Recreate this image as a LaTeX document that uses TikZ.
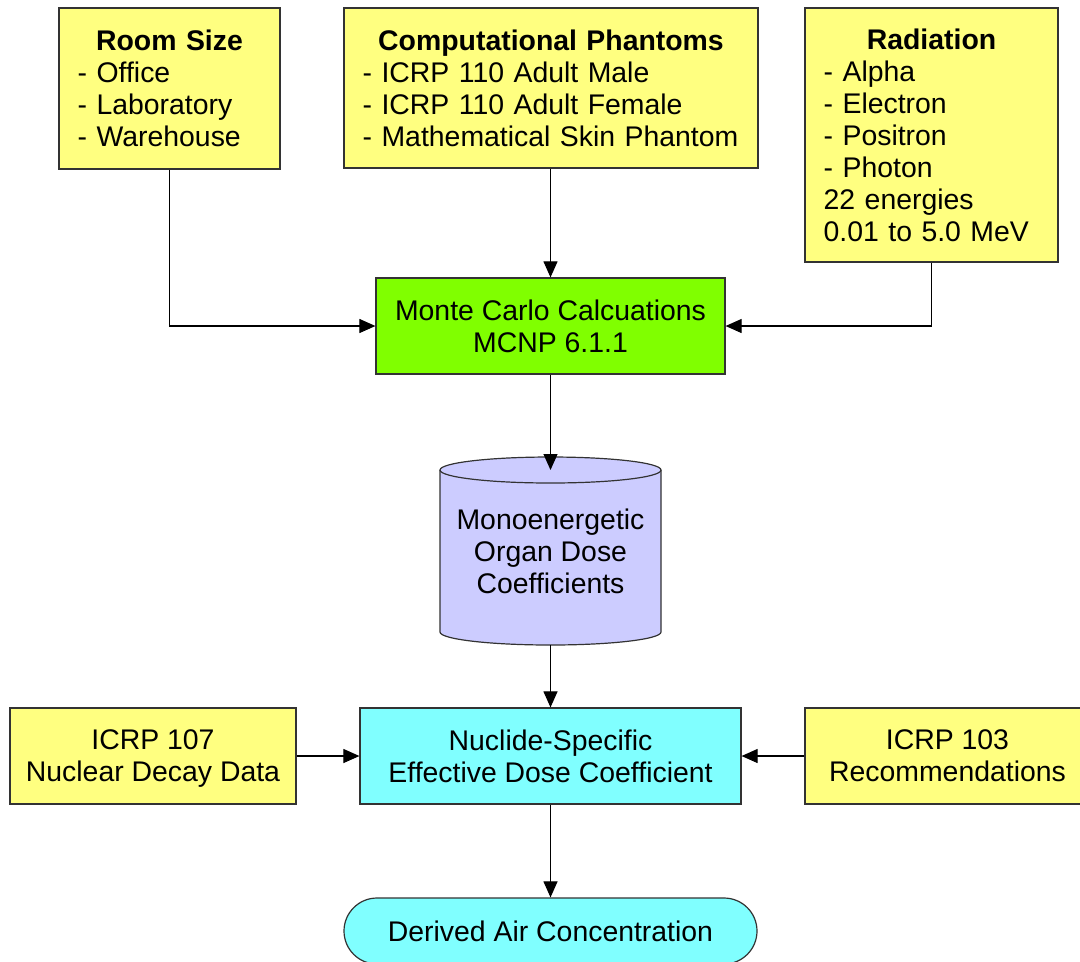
\documentclass[tikz,border=0pt]{standalone}
\usepackage{fontspec}
\setmainfont{Liberation Sans}
\usetikzlibrary{arrows.meta,shapes.misc,backgrounds}
\definecolor{ybox}{RGB}{255,255,128}
\definecolor{gbox}{RGB}{128,255,0}
\definecolor{lbox}{RGB}{204,204,255}
\definecolor{cbox}{RGB}{128,255,255}
\begin{document}
\begin{tikzpicture}[x=0.75pt,y=-0.75pt,
  box/.style={draw=black!80, line width=0.9pt, rectangle, inner sep=0pt, font=\fontsize{21.3pt}{24pt}\selectfont},
  listbox/.style={box, fill=ybox, align=left, inner xsep=14pt, inner ysep=0pt},
  centbox/.style={box, align=center},
  arr/.style={draw=black, line width=0.8pt, -{Triangle[length=12pt,width=10.5pt]}},
  cylline/.style={draw=black!80, line width=0.9pt}
]
\useasboundingbox (0,0) rectangle (1080,961);
\clip (0,0) rectangle (1080,961);
\begin{scope}[on background layer]
\fill[white] (0,0) rectangle (1080,961);
\end{scope}

\node[listbox, text width=137.75pt, minimum height=120.75pt] (room) at (169.5,88.5)
  {\makebox[\linewidth]{\bfseries Room Size}\\- Office\\- Laboratory\\- Warehouse};
\node[listbox, text width=282.5pt, minimum height=120pt] (comp) at (551,88)
  {\makebox[\linewidth]{\bfseries Computational Phantoms}\\- ICRP 110 Adult Male\\- ICRP 110 Adult Female\\- Mathematical Skin Phantom};
\node[listbox, text width=161.75pt, minimum height=190.5pt] (rad) at (931.5,135)
  {\makebox[\linewidth]{\bfseries Radiation}\\- Alpha\\- Electron\\- Positron\\- Photon\\22 energies\\0.01 to 5.0 MeV};

\node[centbox, fill=gbox, minimum width=261.75pt, minimum height=72pt] (mc) at (550.5,326)
  {Monte Carlo Calcuations\\MCNP 6.1.1};

\node[font=\fontsize{21.3pt}{24pt}\selectfont, align=center, rectangle, inner sep=0pt, outer sep=0pt,
  minimum width=165.75pt, minimum height=121.5pt] (cyl) at (550.5,551)
  {Monoenergetic\\Organ Dose\\Coefficients};
\coordinate (cylb) at ([yshift=-9.75pt]cyl.south);
\begin{scope}[on background layer]
\filldraw[cylline, fill=lbox] (cyl.north west) -- (cyl.south west)
  arc[start angle=180, end angle=360, x radius=82.875pt, y radius=9.75pt]
  -- (cyl.north east)
  arc[start angle=0, end angle=180, x radius=82.875pt, y radius=9.75pt] -- cycle;
\draw[cylline] (cyl.north west) arc[start angle=180, end angle=360, x radius=82.875pt, y radius=9.75pt];
\end{scope}

\node[centbox, fill=cbox, minimum width=285.75pt, minimum height=72pt] (nuc) at (550.5,756)
  {Nuclide-Specific\\Effective Dose Coefficient};
\node[centbox, fill=ybox, minimum width=214.5pt, minimum height=72pt, text depth=0pt] (i107) at (153,756)
  {ICRP 107\\Nuclear Decay Data};
\node[centbox, fill=ybox, minimum width=213.75pt, minimum height=72pt] (i103) at (947.5,756)
  {ICRP 103\\Recommendations};
\node[box, rounded rectangle, fill=cbox, minimum width=309.75pt, minimum height=49.5pt] (dac) at (550.5,931)
  {Derived Air Concentration};

\draw[arr] (room.south) |- (mc.west);
\draw[arr] (mc.north |- comp.south) -- (mc.north);
\draw[arr] (rad.south) |- (mc.east);
\draw[arr] (mc.south) -- (cyl.north);
\draw[arr] (cylb) -- (nuc.north);
\draw[arr] (i107.east) -- (nuc.west);
\draw[arr] (i103.west) -- (nuc.east);
\draw[arr] (nuc.south) -- (dac.north);
\end{tikzpicture}
\end{document}
